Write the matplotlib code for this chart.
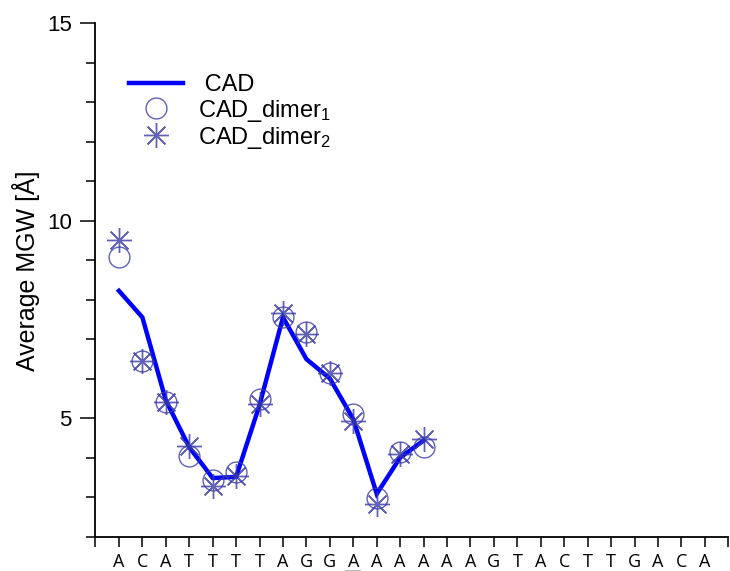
import numpy as np
import matplotlib.pyplot as plt
from matplotlib.lines import Line2D
from matplotlib.ticker import MultipleLocator, FixedLocator

plt.rcParams['font.family'] = ['Liberation Sans', 'DejaVu Sans']
plt.rcParams['mathtext.fontset'] = 'custom'
plt.rcParams['mathtext.rm'] = 'Liberation Sans'
plt.rcParams['mathtext.default'] = 'regular'

# sequence along the x axis
bases = list("ACATTTTAGGAAAAAAGTACTTGACA")
underlined = 11  # position of the underlined base

# average MGW values (Angstrom) for the first 14 positions
pos = np.arange(1, 15)
cad = [8.22, 7.55, 5.45, 4.26, 3.48, 3.51, 5.33, 7.55, 6.49, 6.00, 4.97, 3.08, 4.00, 4.43]
dimer1 = [9.07, 6.44, 5.41, 4.05, 3.43, 3.64, 5.47, 7.55, 7.17, 6.15, 5.10, 2.97, 4.13, 4.26]
dimer2 = [9.51, 6.44, 5.41, 4.30, 3.29, 3.54, 5.35, 7.65, 7.13, 6.13, 4.93, 2.82, 4.09, 4.47]

mk_color = '#3a3aa8'
circ = dict(ls='none', marker='o', ms=15, mfc='none', mec=mk_color, mew=1.0, alpha=0.8)
star = dict(ls='none', marker=(8, 2, 0), ms=18, mec=mk_color, mew=1.0, alpha=0.8)

fig = plt.figure(figsize=(7.30, 5.71), dpi=100)
ax = fig.add_axes([0.1308, 0.0604, 0.8669, 0.8993])

ax.plot(pos, cad, color='#0000ff', lw=3.2, solid_joinstyle='miter', zorder=2)
ax.plot(pos, dimer1, zorder=3, **circ)
ax.plot(pos, dimer2, zorder=3, **star)

ax.set_xlim(0, 27)
ax.set_ylim(2, 15)

for s in ['top', 'right']:
    ax.spines[s].set_visible(False)
for s in ['left', 'bottom']:
    ax.spines[s].set_linewidth(1.3)

ax.yaxis.set_major_locator(FixedLocator([5, 10, 15]))
ax.yaxis.set_minor_locator(MultipleLocator(1))
ax.tick_params(axis='y', which='major', length=11, width=1.1, labelsize=16, pad=6)
ax.tick_params(axis='y', which='minor', length=6.5, width=1.1)

ax.xaxis.set_major_locator(FixedLocator(np.arange(0, 28)))
ax.set_xticklabels([''] + bases + [''], fontfamily='Open Sans', fontsize=13)
ax.tick_params(axis='x', which='major', length=7, width=1.1, pad=5)

ax.set_ylabel('Average MGW [Å]', fontsize=18)
ax.yaxis.set_label_coords(-0.088, 0.517)

# faint underline below the highlighted base
ax.plot([underlined - 0.3, underlined + 0.3], [-0.068, -0.068], color='#bbbbbb',
        lw=1.5, transform=ax.get_xaxis_transform(), clip_on=False)

handles = [
    Line2D([], [], color='#0000ff', lw=3.2),
    Line2D([], [], **circ),
    Line2D([], [], **star),
]
labels = [' CAD', 'CAD_dimer$_1$', 'CAD_dimer$_2$']
ax.legend(handles, labels, loc='upper left', bbox_to_anchor=(0.053, 0.90),
          frameon=False, fontsize=17, handlelength=2.3, handletextpad=0.64,
          labelspacing=0.05, borderpad=0, borderaxespad=0)

fig.savefig('out.png', dpi=100)
